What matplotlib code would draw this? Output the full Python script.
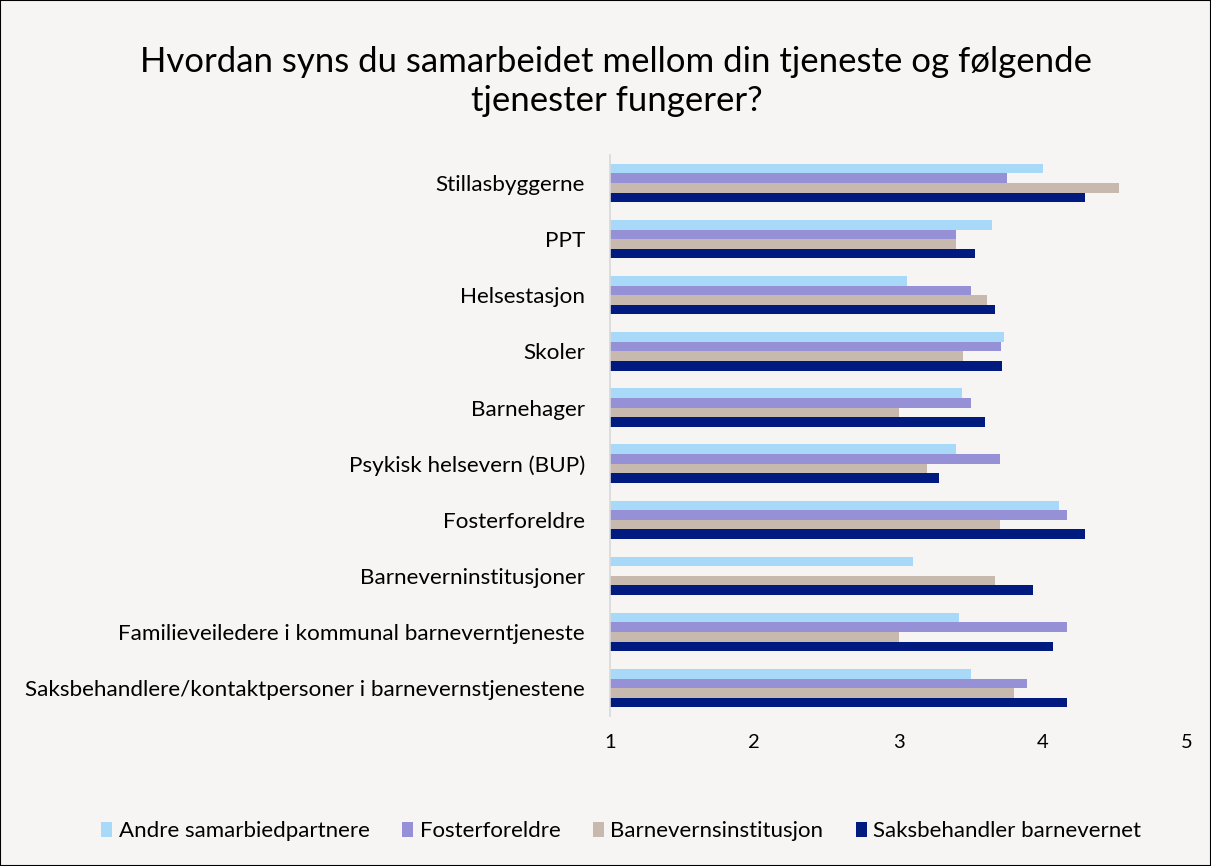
import matplotlib.pyplot as plt
import numpy as np

plt.rcParams['font.family'] = ['Lato', 'DejaVu Sans']

# categories from top to bottom as shown
categories = [
    "Stillasbyggerne",
    "PPT",
    "Helsestasjon",
    "Skoler",
    "Barnehager",
    "Psykisk helsevern (BUP)",
    "Fosterforeldre",
    "Barneverninstitusjoner",
    "Familieveiledere i kommunal barneverntjeneste",
    "Saksbehandlere/kontaktpersoner i barnevernstjenestene",
]
series_names = [
    "Andre samarbiedpartnere",
    "Fosterforeldre",
    "Barnevernsinstitusjon",
    "Saksbehandler barnevernet",
]
andre = [4.00, 3.65, 3.06, 3.73, 3.44, 3.40, 4.11, 3.10, 3.42, 3.50]
foster = [3.75, 3.40, 3.50, 3.71, 3.50, 3.70, 4.17, np.nan, 4.17, 3.89]
institusjon = [4.53, 3.40, 3.61, 3.45, 3.00, 3.20, 3.70, 3.67, 3.00, 3.80]
saksbehandler = [4.29, 3.53, 3.67, 3.72, 3.60, 3.28, 4.29, 3.93, 4.07, 4.17]
colors = ["#A9D9F9", "#9690D6", "#C7B9AD", "#001A80"]

bg = "#F7F5F3"
fig = plt.figure(figsize=(12.11, 8.66), dpi=100, facecolor=bg)
fig.patches.append(plt.Rectangle((0, 0), 1, 1, transform=fig.transFigure,
                                 fill=False, edgecolor="black", linewidth=1.5))
ax = fig.add_axes([0.5037, 0.173, 0.4766, 0.648], facecolor=bg)

y = np.arange(len(categories))
h = 0.171
base = 1.0
for i, (vals, name, c) in enumerate(zip([andre, foster, institusjon, saksbehandler],
                                         series_names, colors)):
    v = np.array(vals, dtype=float)
    ax.barh(y + (i - 1.5) * h, v - base, height=h, left=base, color=c, label=name)

ax.set_ylim(len(categories) - 0.5, -0.5)
ax.set_xlim(1, 5)
ax.set_xticks([1, 2, 3, 4, 5])
ax.set_yticks(y)
ax.set_yticklabels(categories, fontsize=16.2)
ax.tick_params(axis="x", labelsize=14.5, length=0, pad=13)
ax.tick_params(axis="y", length=0, pad=18)
for s in ["top", "right", "bottom"]:
    ax.spines[s].set_visible(False)
ax.spines["left"].set_color("#D9D9D9")
ax.spines["left"].set_linewidth(1.2)

fig.text(0.509, 0.906, "Hvordan syns du samarbeidet mellom din tjeneste og følgende\ntjenester fungerer?",
         ha="center", va="center", fontsize=25, linespacing=1.3)

fig.legend(loc="center", bbox_to_anchor=(0.513, 0.04), ncol=4, frameon=False,
           fontsize=16, handlelength=0.5, handleheight=0.65, handletextpad=0.3,
           columnspacing=1.45)

fig.savefig("out.png", dpi=100, facecolor=bg)
